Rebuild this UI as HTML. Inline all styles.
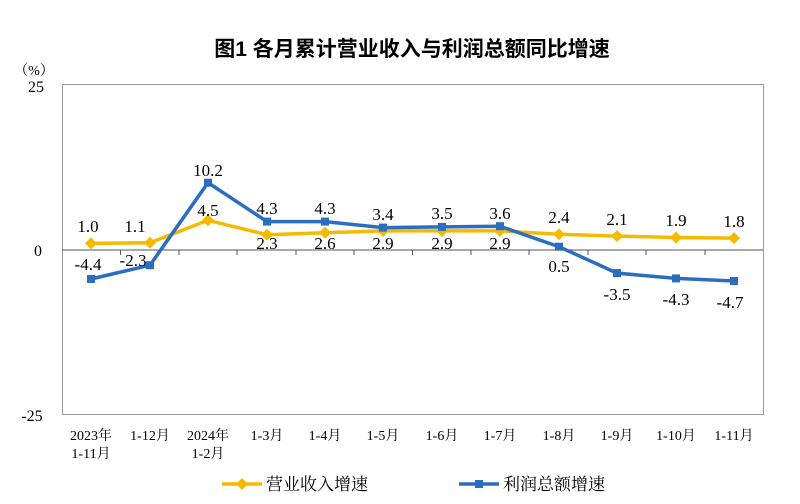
<!DOCTYPE html>
<html><head><meta charset="utf-8"><style>body{margin:0;background:#fff}svg{display:block}</style></head><body>
<svg width="800" height="504" xmlns="http://www.w3.org/2000/svg" font-family="'Liberation Serif','Noto Serif CJK SC',serif">
<text x="412" y="56" text-anchor="middle" font-size="21" font-family="'Liberation Sans','Noto Sans CJK SC',sans-serif" font-weight="bold" fill="#000">图1  各月累计营业收入与利润总额同比增速</text>
<text x="34" y="75" text-anchor="middle" font-size="14">（%）</text>
<text x="36" y="92" text-anchor="middle" font-size="16">25</text>
<text x="38" y="256" text-anchor="middle" font-size="16">0</text>
<text x="32" y="421" text-anchor="middle" font-size="16">-25</text>
<rect x="62.5" y="84.5" width="701" height="330" fill="none" stroke="#999" stroke-width="1"/>
<line x1="62" y1="250" x2="763" y2="250" stroke="#555" stroke-width="1"/>
<g font-size="14" text-anchor="middle" fill="#000">
<text x="91" y="440">2023年</text><text x="91" y="458">1-11月</text>
<text x="150" y="440">1-12月</text>
<text x="208" y="440">2024年</text><text x="208" y="458">1-2月</text>
<text x="267" y="440">1-3月</text><text x="325" y="440">1-4月</text><text x="383" y="440">1-5月</text>
<text x="442" y="440">1-6月</text><text x="500" y="440">1-7月</text><text x="559" y="440">1-8月</text>
<text x="617" y="440">1-9月</text><text x="676" y="440">1-10月</text><text x="734" y="440">1-11月</text>
</g>
<polyline fill="none" stroke="#F5BA00" stroke-width="3.5" points="91,243.4 150,242.7 208,220.3 267,234.8 325,232.8 383,230.9 442,230.9 500,230.9 559,234.2 617,236.1 676,237.5 734,238.1"/>
<g fill="#F5BA00">
<path d="M91 237.4l6 6-6 6-6-6z"/><path d="M150 236.7l6 6-6 6-6-6z"/><path d="M208 214.3l6 6-6 6-6-6z"/><path d="M267 228.8l6 6-6 6-6-6z"/><path d="M325 226.8l6 6-6 6-6-6z"/><path d="M383 224.9l6 6-6 6-6-6z"/><path d="M442 224.9l6 6-6 6-6-6z"/><path d="M500 224.9l6 6-6 6-6-6z"/><path d="M559 228.2l6 6-6 6-6-6z"/><path d="M617 230.1l6 6-6 6-6-6z"/><path d="M676 231.5l6 6-6 6-6-6z"/><path d="M734 232.1l6 6-6 6-6-6z"/>
</g>
<polyline fill="none" stroke="#2B6DBF" stroke-width="3.5" points="91,279 150,265.2 208,182.7 267,221.6 325,221.6 383,227.6 442,226.9 500,226.2 559,246.7 617,273.1 676,278.4 734,281"/>
<g fill="#2B6DBF">
<rect x="87" y="275" width="8" height="8"/><rect x="146" y="261.2" width="8" height="8"/><rect x="204" y="178.7" width="8" height="8"/><rect x="263" y="217.6" width="8" height="8"/><rect x="321" y="217.6" width="8" height="8"/><rect x="379" y="223.6" width="8" height="8"/><rect x="438" y="222.9" width="8" height="8"/><rect x="496" y="222.2" width="8" height="8"/><rect x="555" y="242.7" width="8" height="8"/><rect x="613" y="269.1" width="8" height="8"/><rect x="672" y="274.4" width="8" height="8"/><rect x="730" y="277" width="8" height="8"/>
</g>
<g font-size="17" text-anchor="middle" fill="#000">
<text x="88" y="232">1.0</text><text x="135" y="232">1.1</text><text x="208" y="216">4.5</text><text x="267" y="249">2.3</text><text x="325" y="249">2.6</text><text x="383" y="249">2.9</text><text x="442" y="249">2.9</text><text x="500" y="249">2.9</text><text x="559" y="223">2.4</text><text x="617" y="225">2.1</text><text x="676" y="226">1.9</text><text x="734" y="227">1.8</text>
<text x="88" y="270">-4.4</text><text x="133" y="266">-2.3</text><text x="208" y="176">10.2</text><text x="267" y="214">4.3</text><text x="325" y="214">4.3</text><text x="383" y="220">3.4</text><text x="442" y="219">3.5</text><text x="500" y="219">3.6</text><text x="559" y="272">0.5</text><text x="617" y="300">-3.5</text><text x="676" y="305">-4.3</text><text x="730" y="308">-4.7</text>
</g>
<line x1="222" y1="484" x2="262" y2="484" stroke="#F5BA00" stroke-width="3.5"/><path d="M242 478l6 6-6 6-6-6z" fill="#F5BA00"/>
<text x="266" y="490" font-size="17">营业收入增速</text>
<line x1="459" y1="484" x2="499" y2="484" stroke="#2B6DBF" stroke-width="3.5"/><rect x="475" y="480" width="8" height="8" fill="#2B6DBF"/>
<text x="503" y="490" font-size="17">利润总额增速</text>
<g stroke="#555"><line x1="120.5" y1="250" x2="120.5" y2="255"/><line x1="179" y1="250" x2="179" y2="255"/><line x1="237" y1="250" x2="237" y2="255"/><line x1="296" y1="250" x2="296" y2="255"/><line x1="354" y1="250" x2="354" y2="255"/><line x1="412.5" y1="250" x2="412.5" y2="255"/><line x1="471" y1="250" x2="471" y2="255"/><line x1="529" y1="250" x2="529" y2="255"/><line x1="588" y1="250" x2="588" y2="255"/><line x1="646" y1="250" x2="646" y2="255"/><line x1="705" y1="250" x2="705" y2="255"/></g>
</svg>
</body></html>
